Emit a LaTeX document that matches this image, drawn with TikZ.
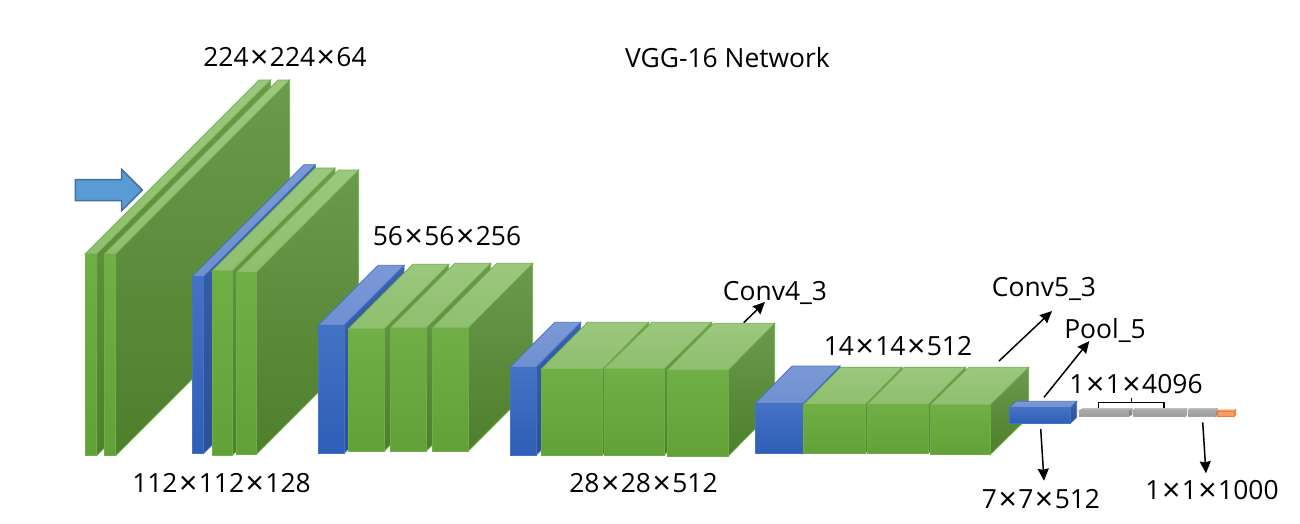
\documentclass[tikz,border=0pt]{standalone}
\usepackage{fontspec}
\setmainfont{Open Sans}
\usetikzlibrary{arrows.meta}
\definecolor{gF1}{HTML}{70AF45}\definecolor{gF2}{HTML}{62A137}
\definecolor{gT1}{HTML}{9CC77F}\definecolor{gT2}{HTML}{8FBF6E}
\definecolor{gS1}{HTML}{6A9A4C}\definecolor{gS2}{HTML}{4E7F2B}
\definecolor{gE}{HTML}{70AD47}
\definecolor{bF1}{HTML}{4472C4}\definecolor{bF2}{HTML}{2E5EB6}
\definecolor{bT1}{HTML}{7C99D6}\definecolor{bT2}{HTML}{6F8FD0}
\definecolor{bS1}{HTML}{3A62AE}\definecolor{bS2}{HTML}{2A5095}
\definecolor{bE}{HTML}{4472C4}
\definecolor{yF1}{HTML}{A9A9A9}\definecolor{yF2}{HTML}{9A9A9A}
\definecolor{yT1}{HTML}{BDBDBD}\definecolor{yT2}{HTML}{B0B0B0}
\definecolor{yS1}{HTML}{8A8A8A}\definecolor{yS2}{HTML}{7A7A7A}
\definecolor{yE}{HTML}{A5A5A5}
\definecolor{oF1}{HTML}{F6A06C}\definecolor{oF2}{HTML}{F49A62}
\definecolor{oT1}{HTML}{F8B48A}\definecolor{oT2}{HTML}{F6AA7C}
\definecolor{oS1}{HTML}{D9803F}\definecolor{oS2}{HTML}{C8702F}
\definecolor{oE}{HTML}{ED7D31}
\definecolor{inFill}{HTML}{5B9BD5}\definecolor{inEdge}{HTML}{41719C}
% x0 x1 ytop ybot dx dy colourprefix
\newcommand{\cuboid}[7]{%
  \path[draw=#7E,line width=.7pt,top color=#7S1,bottom color=#7S2]
    (#2,#3) -- (#2+#5,#3-#6) -- (#2+#5,#4-#6) -- (#2,#4) -- cycle;
  \path[draw=#7E,line width=.7pt,top color=#7T1,bottom color=#7T2]
    (#1,#3) -- (#1+#5,#3-#6) -- (#2+#5,#3-#6) -- (#2,#3) -- cycle;
  \path[draw=#7E,line width=.7pt,top color=#7F1,bottom color=#7F2]
    (#1,#3) rectangle (#2,#4);
}
\newcommand{\X}{\kern1.5pt\raisebox{-2pt}{\fontsize{32}{32}\selectfont ×}\kern1.5pt}
\tikzset{
  lbl/.style={inner sep=0pt,font=\fontsize{26.4}{30}\selectfont,text=black},
  conn/.style={-{Stealth[length=12pt,width=11pt,inset=1pt]},line width=1.5pt,black},
  plainline/.style={line width=1.5pt,black},
  inarrow/.style={draw=inEdge,line width=1.5pt,fill=inFill}
}
\begin{document}
\begin{tikzpicture}[x=1pt,y=-1pt]
\useasboundingbox (0,0) rectangle (1300,523);
% layer 1
\cuboid{85}{96.7}{254}{455.7}{174}{174}{g}
\cuboid{104}{115.7}{254}{455.7}{174}{174}{g}
% input arrow
\path[inarrow]
  (75.3,179.5) -- (121.7,179.5) -- (121.7,169.5) -- (142.3,190) -- (121.7,210.5) -- (121.7,200.5) -- (75.3,200.5) -- cycle;
% layer 2
\cuboid{192}{203.3}{276.7}{453.7}{112}{112}{b}
\cuboid{212}{232}{271}{455.7}{103}{103}{g}
\cuboid{236}{256}{272.7}{454.7}{102.7}{102.7}{g}
% layer 3
\cuboid{318}{344}{325.3}{453.3}{60}{60}{b}
\cuboid{348}{384}{329}{451.3}{64.7}{64.7}{g}
\cuboid{390}{426}{328}{451.3}{64.7}{64.7}{g}
\cuboid{432}{468}{328}{451.3}{64.7}{64.7}{g}
% layer 4
\cuboid{510}{536}{367.3}{455.3}{44.7}{45}{b}
\cuboid{541}{602.3}{369.3}{455.3}{46.4}{47}{g}
\cuboid{604}{664}{369}{455.3}{47.7}{46.7}{g}
\cuboid{667}{728}{370.3}{456.3}{46.7}{47}{g}
% layer 5
\cuboid{755.3}{803.3}{403.3}{453.7}{36.7}{37.3}{b}
\cuboid{803.7}{865}{404.7}{453.7}{37}{37.5}{g}
\cuboid{867}{928}{404.7}{453.7}{37.5}{37.5}{g}
\cuboid{930}{990}{405}{454.7}{38.7}{37.7}{g}
% dense
\cuboid{1009.3}{1070}{407.7}{423.7}{6.7}{6.4}{b}
\cuboid{1079}{1128.3}{410.7}{416.7}{3.7}{2}{y}
\cuboid{1133}{1185}{410.7}{416.7}{1.7}{2}{y}
\cuboid{1188}{1215.7}{410.7}{416.7}{1.5}{2}{y}
\cuboid{1217.3}{1234}{411.7}{416.7}{1.7}{1.7}{o}
% texts
\node[lbl] (t1) at (285,58) {224\X224\X64};
\node[lbl] (t2) at (727.5,58) {VGG-16 Network};
\node[lbl] (t3) at (447,237) {56\X56\X256};
\node[lbl] (t4) at (221.5,484) {112\X112\X128};
\node[lbl] (t5) at (643.5,484) {28\X28\X512};
\node[lbl] (t6) at (775,293) {Conv4\_3};
\node[lbl] (t7) at (1044,289) {Conv5\_3};
\node[lbl] (t8) at (1105,330) {Pool\_5};
\node[lbl] (t9) at (898,347) {14\X14\X512};
\node[lbl] (t10) at (1136,385) {1\X1\X4096};
\node[lbl] (t11) at (1041,500) {7\X7\X512};
\node[lbl] (t12) at (1212,491) {1\X1\X1000};
% arrows
\coordinate (a1) at (743.7,322.7); \coordinate (a1e) at (765,302);
\coordinate (a2) at (999,361); \coordinate (a2e) at (1052,311);
\coordinate (a3) at (1044,397.3); \coordinate (a3e) at (1089.3,341);
\coordinate (a4) at (1040.7,429); \coordinate (a4e) at (1044,480.7);
\coordinate (a5) at (1202.7,422.3); \coordinate (a5e) at (1206,473.3);
\draw[conn] (a1) -- (a1e);
\draw[conn] (a2) -- (a2e);
\draw[conn] (a3) -- (a3e);
\draw[conn] (a4) -- (a4e);
\draw[conn] (a5) -- (a5e);
% brace
\coordinate (b1) at (1098.7,408); \coordinate (b2) at (1098.7,402.7);
\coordinate (b3) at (1164,402.7); \coordinate (b4) at (1164,408);
\coordinate (b5) at (1131.7,402.7); \coordinate (b6) at (1131.7,398);
\draw[plainline] (b1) -- (b2) -- (b3) -- (b4);
\draw[plainline] (b5) -- (b6);
\end{tikzpicture}
\end{document}
